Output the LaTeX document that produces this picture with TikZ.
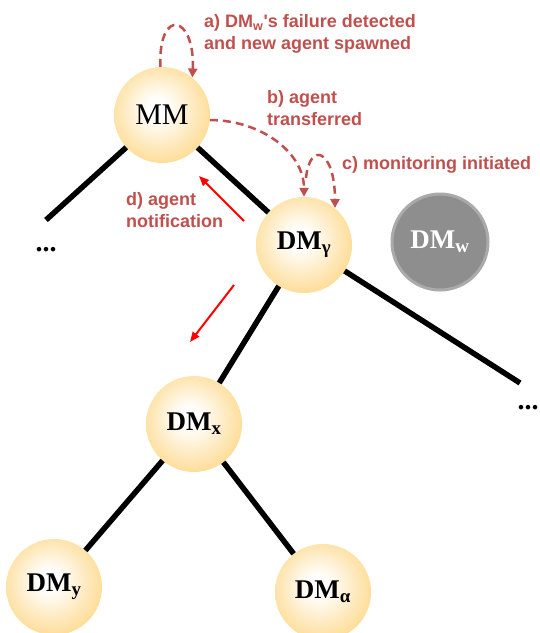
\documentclass[tikz,border=0pt]{standalone}
\usepackage{fontspec}
\setmainfont{Liberation Serif}
\newfontfamily\notefont{Liberation Sans}
\usetikzlibrary{arrows.meta}
\definecolor{orbfill}{RGB}{253,207,110}
\definecolor{orbedge}{RGB}{250,198,92}
\definecolor{msgred}{RGB}{192,80,77}
\definecolor{deadgray}{RGB}{142,142,142}
\definecolor{deadrim}{RGB}{170,170,170}
\pgfdeclareradialshading{orbshade}{\pgfpoint{-3bp}{4bp}}{color(0bp)=(white); color(5bp)=(white); color(36bp)=(orbfill); color(50bp)=(orbedge)}
\tikzset{
  orb/.style={circle,minimum size=96pt,inner sep=0pt,shading=orbshade,font=\bfseries\fontsize{27}{30}\selectfont},
  deadorb/.style={circle,minimum size=96pt,inner sep=0pt,fill=deadgray,draw=deadrim,line width=3pt,text=white,font=\bfseries\fontsize{27}{30}\selectfont},
  tree/.style={line width=5.5pt,black},
  msg/.style={draw=msgred,line width=2.5pt,dash pattern=on 8pt off 5pt,-{Triangle[length=9pt,width=9pt,fill=msgred]}},
  notify/.style={draw=red,line width=2pt,-{Triangle[length=10pt,width=8pt]}},
  note/.style={text=msgred,align=left,inner sep=0pt,font=\notefont\bfseries\fontsize{18}{22}\selectfont},
  more/.style={inner sep=0pt,font=\bfseries\fontsize{28}{30}\selectfont}
}
\begin{document}
\begin{tikzpicture}[x=1pt,y=-1pt]
        \useasboundingbox (0,0) rectangle (540,633);
        \node[orb,font=\fontsize{30}{32}\selectfont] (mm) at (162,115) {MM};
        \node[orb] (dmg) at (304,245) {DM\textsubscript{γ}};
        \node[deadorb] (dmw) at (440,242) {DM\textsubscript{w}};
        \node[orb] (dmx) at (194,424) {DM\textsubscript{x}};
        \node[orb] (dmy) at (54,587) {DM\textsubscript{y}};
        \node[orb] (dma) at (323,592) {DM\textsubscript{α}};
        \node[more] (leftmore) at (46,250) {...};
        \node[more] (rightmore) at (528,408) {...};
        \coordinate (leftend) at (46,220);
        \coordinate (rightend) at (520,383);
        \draw[tree] (mm) -- (leftend);
        \draw[tree] (mm) -- (dmg);
        \draw[tree] (dmg) -- (dmx);
        \draw[tree] (dmg) -- (rightend);
        \draw[tree] (dmx) -- (dmy);
        \draw[tree] (dmx) -- (dma);
        \draw[msg] (mm.92) .. controls +(-2,-61) and +(3,-62) .. (mm.51);
        \draw[msg] (mm.-6) .. controls +(50,0) and +(0,-45) .. (dmg.north);
        \coordinate (monstart) at (306,178);
        \draw[msg] (monstart) .. controls (310,140) and (335,150) .. (dmg.50);
        \coordinate (dtail) at (244,221);
        \coordinate (dhead) at (199,176);
        \draw[notify] (dtail) -- (dhead);
        \coordinate (ptail) at (234,285);
        \coordinate (phead) at (190,342);
        \draw[notify] (ptail) -- (phead);
        \node[note,anchor=west] (failnote) at (204,34) {a) DM\textsubscript{w}'s failure detected\\and new agent spawned};
        \node[note,anchor=west] (movenote) at (267,108) {b) agent\\transferred};
        \node[note,anchor=west] (monnote) at (342,165) {c) monitoring initiated};
        \node[note,anchor=west] (tellnote) at (126,210) {d) agent\\notification};
    \end{tikzpicture}
\end{document}
